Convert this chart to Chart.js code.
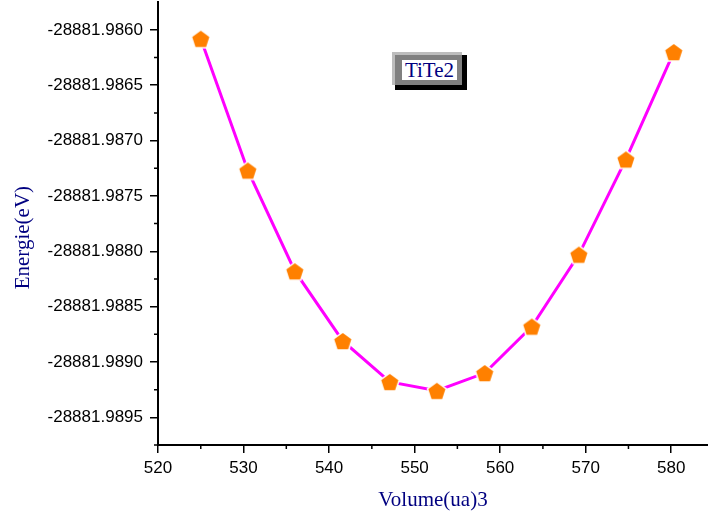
<!DOCTYPE html>
<html>
<head>
<meta charset="utf-8">
<script src="https://cdn.jsdelivr.net/npm/chart.js@4.4.0/dist/chart.umd.min.js"></script>
<style>
  html, body { margin: 0; padding: 0; background: #fff; }
  #wrap { position: relative; width: 708px; height: 517px; overflow: hidden; }
  #chart { position: absolute; left: 0; top: -15px; }
  .tag { position: absolute; box-sizing: border-box; }
  #tagShadow { left: 395px; top: 55px; width: 72px; height: 35px; background: #000; }
  #tagFrame { left: 392px; top: 52px; width: 70px; height: 33px; background: #808080;
    border-top: 3px solid #bdbdbd; border-left: 3px solid #bdbdbd; }
  #tagText { left: 402px; top: 60px; width: 55px; height: 20px; background: #fff;
    font: 21px "Liberation Serif", "Times New Roman", serif; color: #000080;
    text-align: center; line-height: 21px; }
</style>
</head>
<body>
<div id="wrap">
  <canvas id="chart" width="721" height="532"></canvas>
  <div class="tag" id="tagShadow"></div>
  <div class="tag" id="tagFrame"></div>
  <div class="tag" id="tagText">TiTe2</div>
</div>
<script>
// Data
const volumes = [525.0, 530.5, 536.0, 541.6, 547.1, 552.6, 558.2, 563.7, 569.2, 574.7, 580.3];
const energies = [-28881.98608, -28881.98727, -28881.98818, -28881.98881, -28881.98918,
  -28881.98926, -28881.98910, -28881.98868, -28881.98803, -28881.98717, -28881.98620];
const xTicks = [520, 530, 540, 550, 560, 570, 580];
const yTicks = [-28881.9860, -28881.9865, -28881.9870, -28881.9875, -28881.9880,
  -28881.9885, -28881.9890, -28881.9895];

// orange pentagon marker with a white rim (Origin style gap)
function pentagon(r) {
  const c = document.createElement('canvas');
  const s = Math.ceil(r * 2 + 6);
  c.width = s; c.height = s;
  const g = c.getContext('2d');
  g.beginPath();
  for (let i = 0; i < 5; i++) {
    const a = -Math.PI / 2 + i * 2 * Math.PI / 5;
    const px = s / 2 + r * Math.cos(a), py = s / 2 + 1 + r * Math.sin(a);
    if (i === 0) g.moveTo(px, py); else g.lineTo(px, py);
  }
  g.closePath();
  g.lineWidth = 3;
  g.strokeStyle = '#fff';
  g.stroke();
  g.fillStyle = '#ff8000';
  g.fill();
  return c;
}

// minor ticks halfway between major ones, plus the y title (sits a bit low in the original)
const extras = {
  id: 'extras',
  afterDraw(chart) {
    const ctx = chart.ctx;
    const xs = chart.scales.x, ys = chart.scales.y;
    ctx.save();
    ctx.strokeStyle = '#000';
    ctx.lineWidth = 1.5;
    ctx.beginPath();
    for (let i = 0; i < xTicks.length; i++) {
      const px = xs.getPixelForValue(xTicks[i] + 5);
      if (px > xs.right) continue;
      ctx.moveTo(px, ys.bottom); ctx.lineTo(px, ys.bottom + 4);
    }
    for (let i = 0; i < yTicks.length; i++) {
      const py = ys.getPixelForValue(yTicks[i] - 0.00025);
      if (py > ys.bottom) continue;
      ctx.moveTo(xs.left, py); ctx.lineTo(xs.left - 4, py);
    }
    ctx.stroke();

    ctx.translate(23, (ys.top + ys.bottom) / 2 + 14);
    ctx.rotate(-Math.PI / 2);
    ctx.fillStyle = '#000080';
    ctx.font = '21px "Liberation Serif", "Times New Roman", serif';
    ctx.textAlign = 'center';
    ctx.textBaseline = 'middle';
    ctx.fillText('Energie(eV)', 0, 0);
    ctx.restore();
  }
};

const pts = volumes.map((v, i) => ({ x: v, y: energies[i] }));

new Chart(document.getElementById('chart'), {
  type: 'line',
  data: {
    datasets: [{
      data: pts,
      borderColor: '#ff00ff',
      borderWidth: 3,
      tension: 0,
      pointStyle: pentagon(9),
      pointRadius: 10
    }]
  },
  options: {
    responsive: false,
    animation: false,
    layout: { padding: { top: 2, right: 0, left: 0, bottom: 0 } },
    plugins: { legend: { display: false }, tooltip: { enabled: false } },
    scales: {
      x: {
        type: 'linear',
        min: 520, max: 584.3,
        afterFit(s) { s.height = 72; },
        afterBuildTicks(s) { s.ticks = xTicks.map(v => ({ value: v })); },
        border: { display: true, color: '#000', width: 2 },
        grid: { drawOnChartArea: false, drawTicks: true, tickLength: 8, color: '#000', lineWidth: 1.5 },
        ticks: {
          padding: 5,
          color: '#000',
          font: { family: '"Liberation Sans", Arial, sans-serif', size: 17 },
          callback: v => String(v)
        },
        title: {
          display: true,
          text: 'Volume(ua)3',
          color: '#000080',
          font: { family: '"Liberation Serif", "Times New Roman", serif', size: 21 },
          padding: { top: 0, bottom: 4 }
        }
      },
      y: {
        type: 'linear',
        min: -28881.98975, max: -28881.98575,
        afterFit(s) { s.width = 158; },
        afterBuildTicks(s) { s.ticks = yTicks.map(v => ({ value: v })); },
        border: { display: true, color: '#000', width: 2 },
        grid: { drawOnChartArea: false, drawTicks: true, tickLength: 8, color: '#000', lineWidth: 1.5 },
        ticks: {
          padding: 7,
          color: '#000',
          font: { family: '"Liberation Sans", Arial, sans-serif', size: 17 },
          callback: v => Number(v).toFixed(4)
        },
        title: { display: false }
      }
    }
  },
  plugins: [extras]
});
</script>
</body>
</html>
